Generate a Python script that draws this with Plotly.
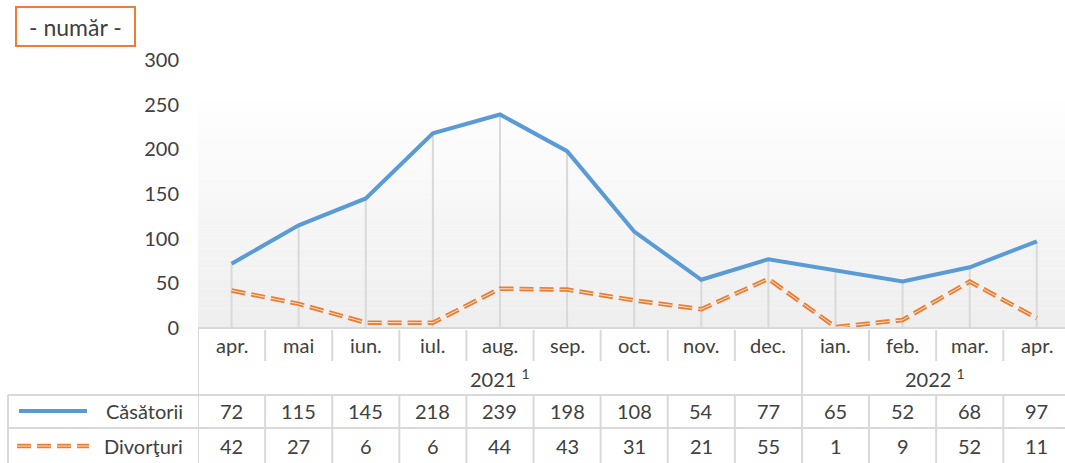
import plotly.graph_objects as go

months = ["apr.", "mai", "iun.", "iul.", "aug.", "sep.", "oct.", "nov.", "dec.",
          "ian.", "feb.", "mar.", "apr."]
years = ["2021 <sup>1</sup>", "2022 <sup>1</sup>"]
year_spans = [(0, 8), (9, 12)]
casatorii = [72, 115, 145, 218, 239, 198, 108, 54, 77, 65, 52, 68, 97]
divorturi = [42, 27, 6, 6, 44, 43, 31, 21, 55, 1, 9, 52, 11]
series_names = ["Căsătorii", "Divorţuri"]
unit_label = "- număr -"
y_ticks = [0, 50, 100, 150, 200, 250, 300]

W, H = 1065, 463
L, R, T, B = 198, 0, 60, 135
PW = W - L - R
PH = H - T - B
FONT = "Lato"
TXT = "#404040"
GRID = "#d9d9d9"
BLUE = "#5b9bd5"
ORANGE = "#ed7d31"
ORANGE_IN = "#fbe3d2"
DASH = "14px,6px"


def py(p):
    return (H - B - p) / PH


def px(p):
    return (p - L) / PW


n = len(months)
xs = list(range(n))
fig = go.Figure()

# drop lines
dx, dy = [], []
for i in xs:
    dx += [i, i, None]
    dy += [0, max(casatorii[i], divorturi[i]), None]
fig.add_trace(go.Scatter(x=dx, y=dy, mode="lines", line=dict(color=GRID, width=2),
                         hoverinfo="skip", showlegend=False))

fig.add_trace(go.Scatter(x=xs, y=casatorii, mode="lines", name=series_names[0],
                         line=dict(color=BLUE, width=4), showlegend=False))
fig.add_trace(go.Scatter(x=xs, y=divorturi, mode="lines", name=series_names[1],
                         line=dict(color=ORANGE, width=4.5, dash=DASH), showlegend=False))
fig.add_trace(go.Scatter(x=xs, y=divorturi, mode="lines", hoverinfo="skip",
                         line=dict(color=ORANGE_IN, width=1, dash=DASH), showlegend=False))

shapes = []
# gradient background
top_p, bot_p = 90, 328
steps = 24
for k in range(steps):
    y0p = top_p + (bot_p - top_p) * k / steps
    y1p = top_p + (bot_p - top_p) * (k + 1) / steps
    t = (k + 0.5) / steps
    c = int(round(255 - (255 - 238) * t))
    shapes.append(dict(type="rect", xref="paper", yref="paper", x0=0, x1=1,
                       y0=py(y1p), y1=py(y0p), fillcolor=f"rgb({c},{c},{c})",
                       line=dict(width=0), layer="below"))


def hline(x0p, x1p, yp, w=2):
    shapes.append(dict(type="line", xref="paper", yref="paper", x0=px(x0p), x1=px(x1p),
                       y0=py(yp), y1=py(yp), line=dict(color=GRID, width=w)))


def vline_x(xv, y0p, y1p, w=2):
    shapes.append(dict(type="line", xref="x", yref="paper", x0=xv, x1=xv,
                       y0=py(y0p), y1=py(y1p), line=dict(color=GRID, width=w)))


# axis line and table grid
hline(L, W + 10, 328)
hline(8, W + 10, 395)
hline(8, W + 10, 428)
shapes.append(dict(type="line", xref="paper", yref="paper", x0=px(8), x1=px(8),
                   y0=py(395), y1=py(463), line=dict(color=GRID, width=2)))
for b in range(n + 1):
    xv = b - 0.5
    if b == 0:
        vline_x(xv, 328, 463)
    elif b == year_spans[1][0]:
        vline_x(xv, 328, 395)
        vline_x(xv, 395, 463)
    else:
        vline_x(xv, 330, 361)
        vline_x(xv, 395, 463)

# legend samples
shapes.append(dict(type="line", xref="paper", yref="paper", x0=px(19), x1=px(87),
                   y0=py(411), y1=py(411), line=dict(color=BLUE, width=4)))
shapes.append(dict(type="line", xref="paper", yref="paper", x0=px(17), x1=px(89),
                   y0=py(446), y1=py(446), line=dict(color=ORANGE, width=4.5, dash=DASH)))
shapes.append(dict(type="line", xref="paper", yref="paper", x0=px(17), x1=px(89),
                   y0=py(446), y1=py(446), line=dict(color=ORANGE_IN, width=1, dash=DASH)))

# unit box
shapes.append(dict(type="rect", xref="paper", yref="paper", x0=px(16), x1=px(135),
                   y0=py(46), y1=py(7), line=dict(color=ORANGE, width=2), fillcolor="white"))

annotations = []
fnt = dict(family=FONT, size=20, color=TXT)
for i, m in enumerate(months):
    annotations.append(dict(x=i, y=py(345), xref="x", yref="paper", text=m, showarrow=False,
                            font=fnt, xanchor="center", yanchor="middle"))
    annotations.append(dict(x=i, y=py(411), xref="x", yref="paper", text=str(casatorii[i]),
                            showarrow=False, font=fnt, xanchor="center", yanchor="middle"))
    annotations.append(dict(x=i, y=py(446), xref="x", yref="paper", text=str(divorturi[i]),
                            showarrow=False, font=fnt, xanchor="center", yanchor="middle"))
year_centers_px = [(198 + 802) / 2, 935]
for yl, cpx in zip(years, year_centers_px):
    annotations.append(dict(x=px(cpx), y=py(378), xref="paper", yref="paper", text=yl,
                            showarrow=False, font=fnt, xanchor="center", yanchor="middle"))
annotations.append(dict(x=px(185), y=py(411), xref="paper", yref="paper", text=series_names[0],
                        showarrow=False, font=fnt, xanchor="right", yanchor="middle"))
annotations.append(dict(x=px(185), y=py(446), xref="paper", yref="paper", text=series_names[1],
                        showarrow=False, font=fnt, xanchor="right", yanchor="middle"))
annotations.append(dict(x=px(76), y=py(27), xref="paper", yref="paper", text=unit_label,
                        showarrow=False, font=dict(family=FONT, size=23, color=TXT),
                        xanchor="center", yanchor="middle"))

fig.update_layout(
    width=W, height=H,
    margin=dict(l=L, r=R, t=T, b=B),
    paper_bgcolor="white", plot_bgcolor="rgba(0,0,0,0)",
    shapes=shapes, annotations=annotations,
    xaxis=dict(range=[-0.5, 12.42], showgrid=False, zeroline=False, showticklabels=False,
               ticks="", showline=False, fixedrange=True),
    yaxis=dict(range=[0, 300], tickvals=y_ticks, showgrid=False, zeroline=False, ticks="",
               showline=False, tickfont=dict(family=FONT, size=20, color=TXT),
               ticklabelstandoff=18, fixedrange=True),
    showlegend=False,
)

fig.write_html("out.html", config={"displayModeBar": False},
               post_script="document.body.style.margin='0';document.body.style.overflow='hidden';")
